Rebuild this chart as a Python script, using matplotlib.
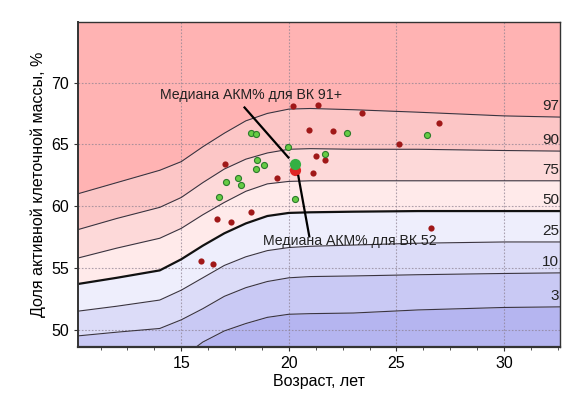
import matplotlib.pyplot as plt
from matplotlib.ticker import MultipleLocator

plt.rcParams['font.family'] = ['Liberation Sans', 'DejaVu Sans']

# ages on which the centile curves are tabulated
ages = [10.2, 12, 14, 15, 16, 17, 18, 19, 20, 21, 23, 26, 30, 32.7]

# centile curves of the active cell mass share, %
p97 = [61.0, 61.9, 62.9, 63.6, 64.8, 65.9, 66.9, 67.5, 67.85, 67.9, 67.8, 67.6, 67.3, 67.2]
p90 = [58.1, 59.0, 59.9, 60.7, 61.9, 63.0, 63.8, 64.3, 64.6, 64.65, 64.6, 64.6, 64.5, 64.45]
p75 = [55.8, 56.6, 57.4, 58.2, 59.3, 60.3, 61.2, 61.8, 62.0, 62.05, 62.05, 62.05, 62.05, 62.05]
p50 = [53.7, 54.2, 54.8, 55.7, 56.8, 57.8, 58.6, 59.2, 59.45, 59.5, 59.55, 59.6, 59.6, 59.6]
p25 = [51.5, 51.9, 52.4, 53.2, 54.2, 55.2, 55.9, 56.4, 56.65, 56.75, 56.85, 57.0, 57.1, 57.1]
p10 = [49.5, 49.8, 50.1, 50.8, 51.7, 52.7, 53.4, 53.9, 54.2, 54.3, 54.35, 54.45, 54.55, 54.6]
p3 = [45.5, 45.9, 46.6, 47.7, 49.0, 49.9, 50.5, 51.0, 51.25, 51.3, 51.35, 51.6, 51.8, 51.85]

centile_names = ['97', '90', '75', '50', '25', '10', '3']

# group "ВК 52"
red_age = [20.2, 21.35, 23.38, 20.94, 22.05, 26.96, 25.11, 21.28, 21.7, 17.02,
           21.1, 19.45, 18.23, 16.68, 17.29, 26.6, 15.9, 16.49]
red_akm = [68.1, 68.16, 67.5, 66.2, 66.07, 66.75, 65.0, 64.04, 63.77, 63.4,
           62.66, 62.31, 59.52, 58.95, 58.71, 58.22, 55.57, 55.35]

# group "ВК 91+"
green_age = [18.22, 18.46, 22.7, 26.4, 19.98, 21.66, 18.53, 18.83, 18.47, 17.65,
             17.07, 17.77, 16.75, 20.29]
green_akm = [65.89, 65.83, 65.89, 65.78, 64.8, 64.2, 63.77, 63.34, 62.99, 62.26,
             61.93, 61.74, 60.74, 60.58]

median_age = 20.3
median_52 = 62.9
median_91 = 63.4

fig = plt.figure(figsize=(5.76, 3.99), dpi=100)
ax = fig.add_axes([0.1354, 0.1303, 0.8368, 0.8146])

ymin, ymax = 48.6, 74.9
curves = [p97, p90, p75, p50, p25, p10, p3]
bounds = [[ymax + 5] * len(ages)] + curves + [[ymin - 5] * len(ages)]
band_colors = ['#ffb3b3', '#fcc6c6', '#fdd9d9', '#ffeaea',
               '#eeeefc', '#dcdcf8', '#c9c9f4', '#b5b5f0']
for i, c in enumerate(band_colors):
    ax.fill_between(ages, bounds[i + 1], bounds[i], color=c, lw=0, zorder=0)

ax.grid(True, which='major', color='#8c8090', lw=0.8, ls=(0, (1.5, 1.5)), alpha=0.7)
ax.set_axisbelow(True)

for name, vals in zip(centile_names, curves):
    if name == '50':
        ax.plot(ages, vals, color='#111111', lw=1.6, zorder=2)
    else:
        ax.plot(ages, vals, color='#3a3440', lw=0.8, zorder=2)
    ax.text(32.55, vals[-1] + 0.3, name, ha='right', va='bottom', fontsize=11,
            color='#222222', zorder=3)

ax.scatter(red_age, red_akm, s=20, color='#a01818', lw=0, zorder=4)
ax.scatter(green_age, green_akm, s=19, facecolor='#66cc44', edgecolor='#2b7a2b',
           lw=0.8, zorder=4)
ax.scatter([median_age], [median_52], s=65, color='#e02424', lw=0, zorder=5)
ax.scatter([median_age], [median_91], s=65, color='#34b043', lw=0, zorder=5)

# leader lines to the medians
ax.plot([17.94, 19.98], [67.98, 63.93], color='black', lw=1.6, zorder=6)
ax.plot([20.44, 20.95], [62.44, 57.55], color='black', lw=1.6, zorder=6)
ax.text(13.99, 68.97, 'Медиана АКМ% для ВК 91+', fontsize=10.2, ha='left',
        va='center', color='#222222', zorder=7)
ax.text(18.79, 57.17, 'Медиана АКМ% для ВК 52', fontsize=10.2, ha='left',
        va='center', color='#222222', zorder=7)

ax.set_xlim(10.2, 32.6)
ax.set_ylim(ymin, ymax)
ax.xaxis.set_major_locator(MultipleLocator(5))
ax.xaxis.set_minor_locator(MultipleLocator(1.25))
ax.set_yticks([50, 55, 60, 65, 70])
ax.tick_params(axis='both', which='major', labelsize=11.5, length=3, color='#333333')
ax.tick_params(axis='x', which='minor', length=2, color='#333333')
for s in ax.spines.values():
    s.set_color('#333333')
    s.set_linewidth(1.0)
ax.spines['bottom'].set_linewidth(1.6)
ax.spines['left'].set_linewidth(1.4)

ax.set_xlabel('Возраст, лет', fontsize=11.5, labelpad=2)
ax.set_ylabel('Доля активной клеточной массы, %', fontsize=11.5, labelpad=4)

fig.savefig('out.png', dpi=100)
